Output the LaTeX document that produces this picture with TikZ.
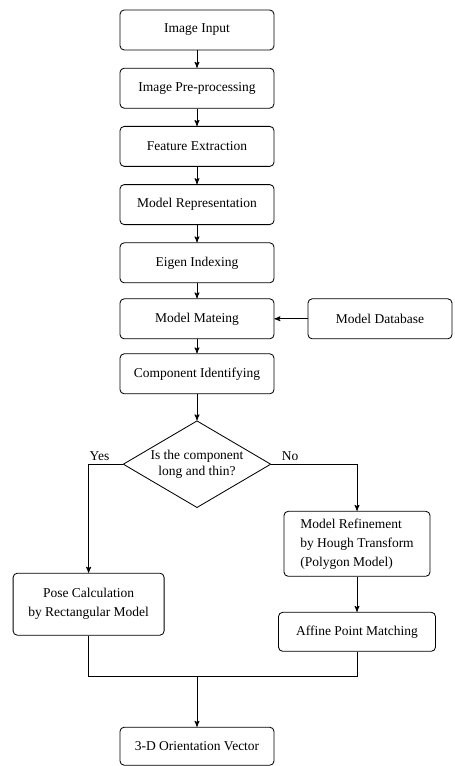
\documentclass[tikz,border=0pt]{standalone}
\usepackage{fontspec}
\setmainfont{Liberation Serif}
\usetikzlibrary{arrows,shapes,positioning,calc}

\tikzset{
  block/.style={rectangle, rounded corners=3pt, draw=black, minimum width=3.85cm,
    minimum height=1cm, align=center, font=\fontsize{9.6}{13.5}\selectfont},
  decision/.style={diamond, draw=black, shape aspect=1.7, minimum width=3.575cm,
    minimum height=2.1cm, inner sep=1pt, align=center, font=\fontsize{9.6}{11}\selectfont}
}

\begin{document}
\begin{tikzpicture}[node distance = 1.455cm, line width=0.6pt, >=stealth']
  \useasboundingbox (0,0) rectangle (11.35,-19.15);

  \node[block] at (4.925,-0.75) (input) {Image Input};
  \node[block, below of = input] (pre) {Image Pre-processing};
  \node[block, below of = pre] (feat) {Feature Extraction};
  \node[block, below of = feat] (rep) {Model Representation};
  \node[block, below of = rep] (eigen) {Eigen Indexing};
  \node[block, below of = eigen, node distance = 1.4cm] (match) {Model Mateing};
  \node[block, below of = match, node distance = 1.375cm] (comp) {Component Identifying};
  \node[block, right of = match, node distance = 4.575cm, minimum width=3.6cm] (db) {Model Database};

  \node[decision, below of = comp, node distance = 2.26cm] (long) {Is the component\\long and thin?};

  \node[block, below of = long, node distance = 1.99cm, xshift = 4cm, minimum width=3.65cm,
    minimum height=1.625cm, align=left] (hough) {Model Refinement\\by Hough Transform\\(Polygon Model)};
  \node[block, below of = long, node distance = 3.5cm, xshift = -2.71cm, minimum width=3.775cm,
    minimum height=1.55cm] (pose) {Pose Calculation\\by Rectangular Model};
  \node[block, below of = hough, node distance = 2.2cm, minimum width=3.925cm,
    minimum height=0.975cm] (affine) {Affine Point Matching};
  \node[block, below of = long, node distance = 7.05cm, minimum height=0.95cm] (orient) {3-D Orientation Vector};

  \coordinate (join) at ($(orient.north)+(0,1.25)$);

  \draw[->] (input)--(pre);
  \draw[->] (pre)--(feat);
  \draw[->] (feat)--(rep);
  \draw[->] (rep)--(eigen);
  \draw[->] (eigen)--(match);
  \draw[->] (match)--(comp);
  \draw[->] (db)--(match);
  \draw[->] (comp)--(long);

  \draw[->] (long.west) -| node[above, pos=0.34, inner sep=2pt, font=\fontsize{9.6}{11}\selectfont] {Yes} (pose);
  \draw[->] (long.east) -| node[above, pos=0.11, inner sep=2pt, font=\fontsize{9.6}{11}\selectfont] {No} (hough);
  \draw[->] (hough)--(affine);

  \draw (pose.south) |- (join) -| (affine.south);
  \draw[->] (join)--(orient);

\end{tikzpicture}
\end{document}
